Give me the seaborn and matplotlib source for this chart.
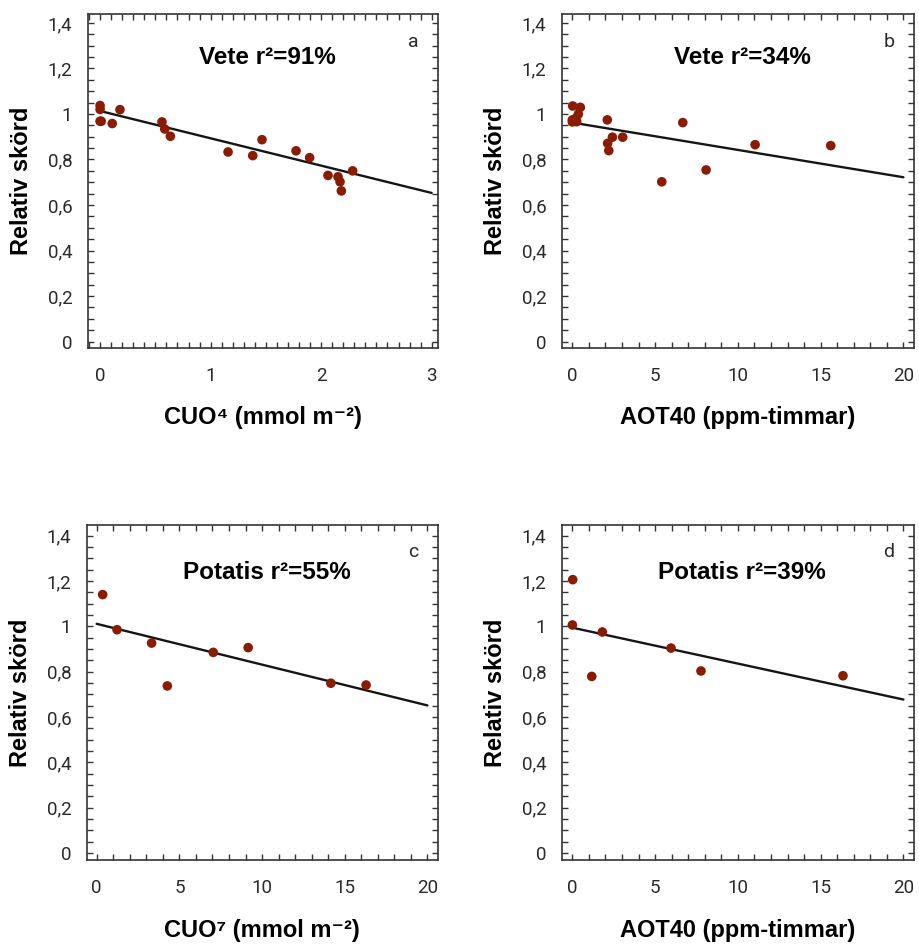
import numpy as np
import pandas as pd
import matplotlib
matplotlib.use("Agg")
import matplotlib.pyplot as plt
from matplotlib.ticker import MultipleLocator, FuncFormatter
import seaborn as sns

# ---------------- data ----------------
cuo4_x = [0.0, 0.0, 0.0, 0.01, 0.11, 0.18, 0.56, 0.585, 0.636, 1.158, 1.381,
          1.465, 1.773, 1.896, 2.062, 2.153, 2.171, 2.183, 2.285]
vete_cuo_y = [1.037, 1.020, 0.968, 0.968, 0.958, 1.019, 0.965, 0.934, 0.902,
              0.833, 0.817, 0.887, 0.838, 0.808, 0.730, 0.724, 0.702, 0.662, 0.750]

aot_vete_x = [0.02, 0.48, 0.36, 0.22, 0.0, 0.0, 0.26, 2.11, 2.13, 2.20, 2.42,
              3.04, 5.40, 6.67, 8.08, 11.04, 15.61]
vete_aot_y = [1.035, 1.029, 0.999, 0.981, 0.974, 0.965, 0.966, 0.974, 0.871,
              0.839, 0.898, 0.898, 0.702, 0.962, 0.754, 0.865, 0.861]

cuo7_x = [0.36, 1.23, 3.32, 4.27, 7.05, 9.16, 14.16, 16.29]
potatis_cuo_y = [1.140, 0.985, 0.926, 0.737, 0.885, 0.906, 0.749, 0.741]

aot_potatis_x = [0.02, 0.0, 1.17, 1.81, 5.96, 7.77, 16.35]
potatis_aot_y = [1.206, 1.006, 0.779, 0.975, 0.904, 0.803, 0.782]

# regression lines (end points)
fit_a_x, fit_a_y = [0, 3], [1.013, 0.653]
fit_b_x, fit_b_y = [0, 20], [0.962, 0.722]
fit_c_x, fit_c_y = [0, 20], [1.011, 0.651]
fit_d_x, fit_d_y = [0, 20], [0.994, 0.677]

titles = ["Vete r²=91%", "Vete r²=34%", "Potatis r²=55%", "Potatis r²=39%"]
letters = ["a", "b", "c", "d"]
xlabels = ["CUO⁴ (mmol m⁻²)", "AOT40 (ppm-timmar)",
           "CUO⁷ (mmol m⁻²)", "AOT40 (ppm-timmar)"]
ylabel = "Relativ skörd"

# ---------------- style ----------------
sns.set_style("white")
plt.rcParams["font.family"] = ["Liberation Sans", "DejaVu Sans"]

DOT = "#8a1c04"
SPINE = "#333333"

fig = plt.figure(figsize=(9.19, 9.47), dpi=100)
W, H = 919, 947
boxes = [(87.7, 14, 438.3, 348), (561.7, 14, 914, 348),
         (86.7, 525, 438, 860), (561.7, 525, 914, 860)]
axes = [fig.add_axes([l / W, 1 - b / H, (r - l) / W, (b - t) / H]) for (l, t, r, b) in boxes]

panels = [
    (cuo4_x, vete_cuo_y, fit_a_x, fit_a_y, (-0.112, 3.06), (-0.028, 1.439), 1, 0.1, 0.87),
    (aot_vete_x, vete_aot_y, fit_b_x, fit_b_y, (-0.645, 20.64), (-0.028, 1.439), 5, 1, 0.87),
    (cuo7_x, potatis_cuo_y, fit_c_x, fit_c_y, (-0.604, 20.64), (-0.031, 1.447), 5, 1, 0.857),
    (aot_potatis_x, potatis_aot_y, fit_d_x, fit_d_y, (-0.645, 20.64), (-0.031, 1.447), 5, 1, 0.857),
]

def yfmt(v, pos):
    s = f"{v:.1f}".rstrip("0").rstrip(".")
    return s.replace(".", ",")

def xfmt(v, pos):
    return f"{v:g}"

for i, (ax, p) in enumerate(zip(axes, panels)):
    xs, ys, fx, fy, xl, yl, xmaj, xmin, ty = p
    sns.lineplot(x=fx, y=fy, ax=ax, color="#151515", linewidth=1.7, zorder=2)
    sns.scatterplot(x=xs, y=ys, ax=ax, color=DOT, s=48, edgecolor="none", zorder=3)
    ax.set_xlim(*xl)
    ax.set_ylim(*yl)
    ax.xaxis.set_major_locator(MultipleLocator(xmaj))
    ax.xaxis.set_minor_locator(MultipleLocator(xmin))
    ax.yaxis.set_major_locator(MultipleLocator(0.2))
    ax.yaxis.set_minor_locator(MultipleLocator(0.05))
    ax.yaxis.set_major_formatter(FuncFormatter(yfmt))
    ax.xaxis.set_major_formatter(FuncFormatter(xfmt))
    for s in ax.spines.values():
        s.set_color(SPINE)
        s.set_linewidth(1.2)
    ax.tick_params(which="both", direction="in", top=True, right=True,
                   bottom=True, left=True, length=4, width=1.0, color=SPINE)
    ax.tick_params(axis="y", which="major", pad=11, labelsize=13.5, labelcolor="#2a2a2a")
    ax.tick_params(axis="x", which="major", pad=14, labelsize=13.5, labelcolor="#2a2a2a")
    for lab in ax.get_xticklabels() + ax.get_yticklabels():
        lab.set_fontfamily(["Roboto", "Liberation Sans"])
        lab.set_fontweight("normal")
    ax.set_xlabel(xlabels[i], fontsize=17, fontweight="bold", color="#000000")
    ax.set_ylabel(ylabel, fontsize=17, fontweight="bold", color="#000000")
    ax.xaxis.set_label_coords(0.5, -0.175)
    ax.yaxis.set_label_coords(-0.155, 0.5)
    ax.text(0.512, ty, titles[i], transform=ax.transAxes, ha="center", va="center",
            fontsize=17.5, fontweight="bold", color="#000000")
    ax.text(0.929, 0.915 if i < 2 else 0.919, letters[i], transform=ax.transAxes,
            ha="center", va="center", fontsize=14, color="#2a2a2a",
            fontfamily=["Roboto", "Liberation Sans"], fontweight="normal")
    ax.grid(False)

fig.savefig("out.png", dpi=100, facecolor="white")
